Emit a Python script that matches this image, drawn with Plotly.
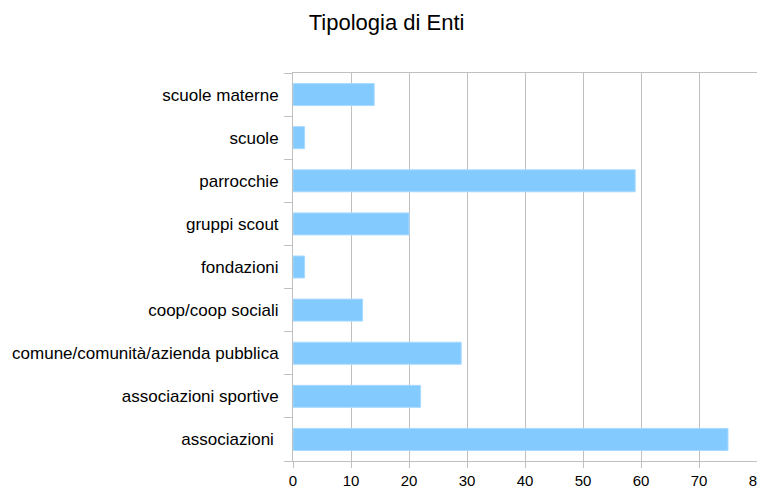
import plotly.graph_objects as go

categories = ["associazioni\u00a0", "associazioni sportive", "comune/comunità/azienda pubblica",
              "coop/coop sociali", "fondazioni", "gruppi scout", "parrocchie", "scuole", "scuole materne"]
values = [75, 22, 29, 12, 2, 20, 59, 2, 14]
x_ticks = [0, 10, 20, 30, 40, 50, 60, 70, 80]

fig = go.Figure(go.Bar(
    x=values, y=categories, orientation="h",
    marker=dict(color="#83caff", line=dict(color="#a8daff", width=1)),
))

# page has an 8px body margin; figure is offset so the plot lands where the reference has it
fig.update_layout(
    width=765, height=481,
    margin=dict(l=285, r=16, t=65, b=28),
    paper_bgcolor="white", plot_bgcolor="white",
    font=dict(family="Liberation Sans, Arial, sans-serif", size=17, color="#000000"),
    title=dict(text="Tipologia di Enti", x=0.4948, xanchor="center", y=0.971, yanchor="middle",
               font=dict(size=22, color="#000000")),
    bargap=0.49,
    showlegend=False,
)
fig.update_xaxes(
    range=[0, 80], tickvals=x_ticks, showgrid=True, gridcolor="#c0c0c0", gridwidth=1,
    showline=True, linecolor="#c0c0c0", linewidth=1, ticks="outside", ticklen=6,
    tickcolor="#c0c0c0", zeroline=False, mirror=True, fixedrange=True,
    tickfont=dict(size=15), automargin=False,
)
fig.update_yaxes(
    categoryorder="array", categoryarray=categories,
    showline=True, linecolor="#c0c0c0", linewidth=1, ticks="outside", ticklen=8,
    tickcolor="#c0c0c0", tickson="boundaries", showgrid=False, zeroline=False,
    automargin=False, ticklabelstandoff=10,
)

fig.write_html("out.html")
